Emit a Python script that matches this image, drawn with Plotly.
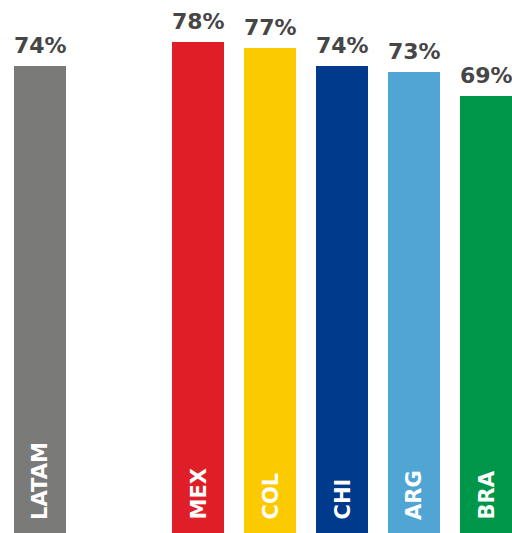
import plotly.graph_objects as go

# Data
latam_label = "LATAM"
latam_value = 74
countries = ["MEX", "COL", "CHI", "ARG", "BRA"]
country_values = [78, 77, 74, 73, 69]
latam_color = "#7a7a78"
country_colors = ["#e01e27", "#fcca00", "#003a8c", "#51a5d4", "#00964a"]
spacer = " "

category_order = [latam_label, spacer] + countries

# Axis geometry (style)
y_lo, y_hi = -3.833, 85.0
floor = y_lo - 0.5
bar_w = 52 / 72
latam_shift = -14 / 72

value_font = dict(family="DejaVu Sans", size=22, color="#464646")
label_font = dict(family="DejaVu Sans", size=21, color="#ffffff")

fig = go.Figure()

fig.add_trace(go.Bar(
    x=[latam_label],
    y=[latam_value - floor],
    base=floor,
    width=bar_w,
    offset=-bar_w / 2 + latam_shift,
    marker=dict(color=latam_color, line=dict(width=0)),
    showlegend=False,
    hoverinfo="skip",
))

fig.add_trace(go.Bar(
    x=countries,
    y=[v - floor for v in country_values],
    base=floor,
    width=bar_w,
    marker=dict(color=country_colors, line=dict(width=0)),
    showlegend=False,
    hoverinfo="skip",
))

annotations = []
all_cats = [latam_label] + countries
all_vals = [latam_value] + country_values
for c, v in zip(all_cats, all_vals):
    xs = -14 if c == latam_label else 0
    annotations.append(dict(
        x=c, y=v, xref="x", yref="y", text="<b>%d%%</b>" % v,
        showarrow=False, yanchor="bottom", xanchor="center",
        yshift=6, xshift=xs, font=value_font,
    ))
    annotations.append(dict(
        x=c, y=y_lo, xref="x", yref="y", text="<b>%s</b>" % c,
        showarrow=False, yanchor="bottom", xanchor="center",
        textangle=-90, yshift=11, xshift=xs, font=label_font,
    ))

fig.update_layout(
    width=512, height=533,
    margin=dict(l=0, r=0, t=0, b=0),
    paper_bgcolor="white", plot_bgcolor="white",
    bargap=0,
    annotations=annotations,
    xaxis=dict(type="category", categoryorder="array", categoryarray=category_order,
               range=[-0.75, 6.361], visible=False, fixedrange=True),
    yaxis=dict(range=[y_lo, y_hi], visible=False, fixedrange=True),
)

fig.write_html(
    "out.html",
    config={"displayModeBar": False},
    post_script="document.body.style.margin='0';document.body.style.overflow='hidden';",
)
